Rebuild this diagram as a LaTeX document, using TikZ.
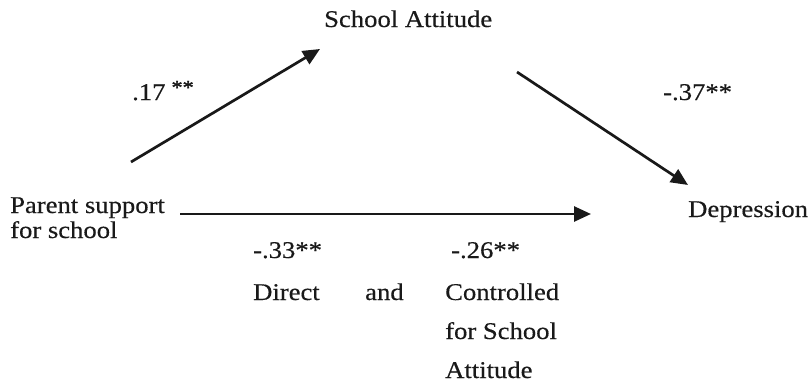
\documentclass[tikz,border=0pt]{standalone}
\usepackage{fontspec}
\setmainfont{Liberation Serif}[FakeStretch=1.11,FakeBold=0.4]
\usetikzlibrary{arrows.meta}
\begin{document}
\begin{tikzpicture}[x=1pt,y=-1pt,
  lbl/.style={anchor=base west,inner sep=0pt,font=\fontsize{24}{28}\selectfont,text=black!90},
  arr/.style={line width=2.7pt,draw=black!90,-{Triangle[length=17pt,width=15pt]}}]
\useasboundingbox (0,0) rectangle (812,383);
% nodes
\node[lbl] (sa) at (324,27) {School Attitude};
\node[lbl] (psA) at (10,213) {Parent support};
\node[lbl] (psB) at (10,238) {for school};
\node[lbl] (dep) at (688,217) {Depression};
% coefficients
\node[lbl] (c17) at (132,100) {.17\hspace{6pt}\raisebox{6pt}{\fontsize{20}{20}\selectfont\addfontfeature{FakeBold=1.5}**}};
\node[lbl] (c37) at (663,100) {-.37**};
\node[lbl] (c33) at (253,258) {-.33**};
\node[lbl] (c26) at (451,258) {-.26**};
\node[lbl] (ldir) at (253,300) {Direct};
\node[lbl] (land) at (365,300) {and};
\node[lbl] (lconA) at (445,300) {Controlled};
\node[lbl] (lconB) at (445,339) {for School};
\node[lbl] (lconC) at (445,378) {Attitude};
% connector end points
\coordinate (a1s) at (131,162);
\coordinate (a1e) at (320,49);
\coordinate (a2s) at (517,72);
\coordinate (a2e) at (688,185);
\coordinate (a3s) at (180,214);
\coordinate (a3e) at (591,214);
\draw[arr] (a1s) -- (a1e);
\draw[arr] (a2s) -- (a2e);
\draw[arr] (a3s) -- (a3e);
\end{tikzpicture}
\end{document}
